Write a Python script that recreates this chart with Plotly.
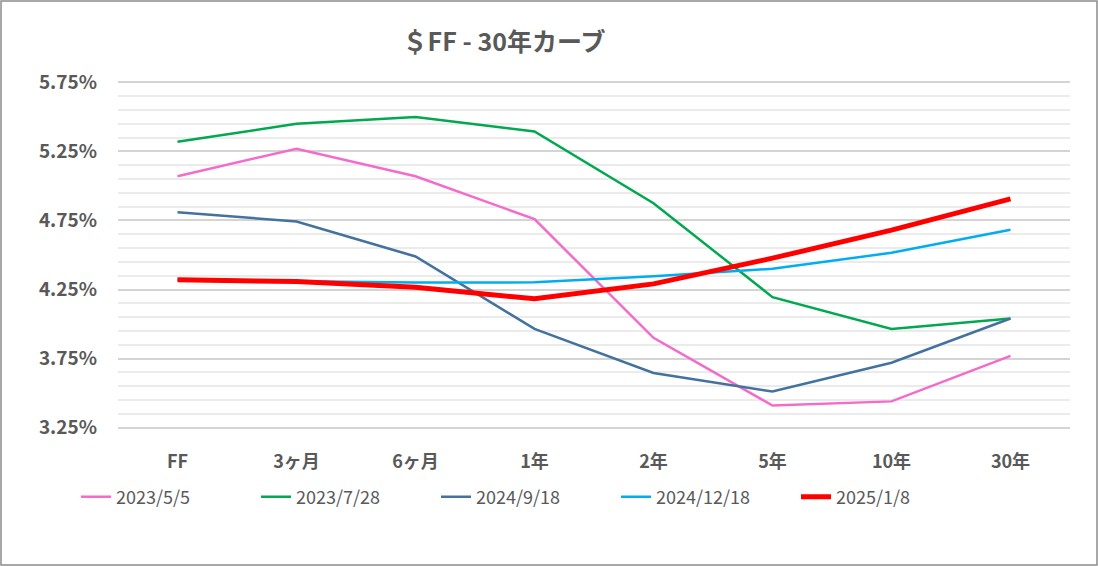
import plotly.graph_objects as go

# ----------- data ----------- #
TENORS = ["FF", "3ヶ月", "6ヶ月", "1年", "2年", "5年", "10年", "30年"]

CURVE_2023_05_05 = [5.07, 5.27, 5.07, 4.76, 3.90, 3.41, 3.44, 3.77]
CURVE_2023_07_28 = [5.32, 5.45, 5.50, 5.395, 4.875, 4.195, 3.965, 4.04]
CURVE_2024_09_18 = [4.81, 4.743, 4.489, 3.965, 3.646, 3.511, 3.72, 4.04]
CURVE_2024_12_18 = [4.32, 4.312, 4.30, 4.302, 4.346, 4.40, 4.516, 4.683]
CURVE_2025_01_08 = [4.32, 4.308, 4.267, 4.183, 4.291, 4.477, 4.68, 4.907]

SERIES = [
    ("2023/5/5", CURVE_2023_05_05, "#f36bcb", 2.5),
    ("2023/7/28", CURVE_2023_07_28, "#00a84f", 2.5),
    ("2024/9/18", CURVE_2024_09_18, "#44729e", 2.5),
    ("2024/12/18", CURVE_2024_12_18, "#00aeef", 2.5),
    ("2025/1/8", CURVE_2025_01_08, "#ff0000", 5),
]

Y_TICKS = [3.25, 3.75, 4.25, 4.75, 5.25, 5.75]

FONT = "Noto Sans CJK JP"
GREY = "#595959"

# ----------- plot ----------- #
W, H = 1098, 566
L, R, T, B = 118, 28, 81, 137
pw, ph = W - L - R, H - T - B

fig = go.Figure()
for name, vals, color, width in SERIES:
    fig.add_trace(go.Scatter(
        x=TENORS, y=vals, mode="lines", name=name,
        line=dict(color=color, width=width),
    ))


# pixel -> paper helpers
def px_x(p):
    return (p - L) / pw


def px_y(p):
    return (H - B - p) / ph


# outer frame
fig.add_shape(
    type="rect", xref="paper", yref="paper",
    x0=px_x(1), x1=px_x(1097), y0=px_y(565), y1=px_y(1),
    line=dict(color="#8c8c8c", width=1.5), fillcolor="rgba(0,0,0,0)",
    layer="below",
)

fig.update_layout(
    width=W, height=H,
    margin=dict(l=L, r=R, t=T, b=B),
    paper_bgcolor="white", plot_bgcolor="white",
    font=dict(family=FONT, color=GREY),
    title=dict(
        text="<b>＄FF - 30年カーブ</b>",
        x=504 / W, xanchor="center", xref="container",
        y=1 - 42 / H, yanchor="middle", yref="container",
        font=dict(size=25, color=GREY, family=FONT),
    ),
    xaxis=dict(
        range=[-0.5, 7.5],
        showgrid=False, zeroline=False, showline=False,
        ticks="", ticklabelstandoff=20,
        tickfont=dict(size=18, color=GREY, family=FONT, weight="bold"),
    ),
    yaxis=dict(
        range=[3.24, 5.76], tickvals=Y_TICKS,
        ticktext=[f"{v:.2f}%" for v in Y_TICKS],
        showgrid=True, gridcolor="#d4d4d4", gridwidth=1.6,
        zeroline=False, showline=False, ticks="", ticklabelstandoff=20,
        tickfont=dict(size=19, color=GREY, family=FONT, weight="bold"),
        minor=dict(dtick=0.1, tick0=3.25, showgrid=True,
                   gridcolor="#ebebeb", gridwidth=1.6),
    ),
    legend=dict(
        orientation="h", x=px_x(76), xanchor="left",
        y=px_y(497), yanchor="middle",
        font=dict(size=18, color=GREY, family=FONT),
        itemwidth=30, tracegroupgap=0,
        entrywidth=135, entrywidthmode="pixels",
    ),
    showlegend=True,
)

fig.write_html(
    "out.html",
    config={"displayModeBar": False},
    post_script="document.body.style.margin='0';",
)
